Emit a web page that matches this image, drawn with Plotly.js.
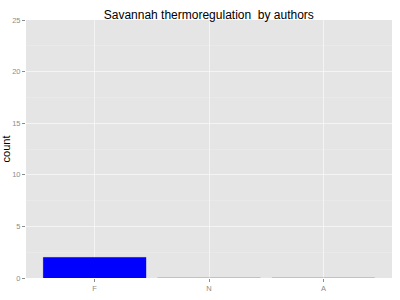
<!DOCTYPE html>
<html>
<head>
<script src="https://cdn.plot.ly/plotly-3.0.1.min.js"></script>
<style>body{margin:0;padding:0;background:#fff}#chart{width:400px;height:300px}</style>
</head>
<body>
<div id="chart"></div>
<script>
var categories = ["F", "N", "A"];
var counts = [2, 0, 0];
var yTicks = [0, 5, 10, 15, 20, 25];

var trace = {
  type: "bar",
  x: categories,
  y: counts,
  width: 0.9,
  marker: {color: "#0000ff", line: {color: "rgba(0,0,255,0.3)", width: 0.6}},
  hoverinfo: "none"
};

var layout = {
  width: 400,
  height: 300,
  margin: {l: 26, r: 8, t: 20, b: 22},
  paper_bgcolor: "#ffffff",
  plot_bgcolor: "#e5e5e5",
  font: {family: "Liberation Sans, Arial, sans-serif", color: "#000"},
  title: {text: "Savannah thermoregulation  by authors", font: {size: 12, color: "#000"}, x: 0.522, xanchor: "center", yref: "container", y: 0.952, yanchor: "middle"},
  showlegend: false,
  bargap: 0,
  xaxis: {
    type: "category",
    range: [-0.6, 2.6],
    showgrid: true,
    gridcolor: "#f7f7f7",
    gridwidth: 0.8,
    zeroline: false,
    showline: false,
    ticks: "outside",
    ticklen: 3,
    tickcolor: "#8c8c8c",
    tickfont: {size: 7.5, color: "#8c8c8c"},
    fixedrange: true
  },
  yaxis: {
    range: [0, 25],
    tickvals: yTicks,
    ticktext: yTicks.map(String),
    showgrid: true,
    gridcolor: "#f7f7f7",
    gridwidth: 0.8,
    zeroline: false,
    showline: false,
    ticks: "outside",
    ticklen: 3,
    tickcolor: "#8c8c8c",
    tickfont: {size: 7.5, color: "#8c8c8c"},
    minor: {tickvals: [2.5, 7.5, 12.5, 17.5, 22.5], showgrid: true, gridcolor: "#eeeeee", gridwidth: 0.5, ticks: ""},
    title: {text: "count", font: {size: 11, color: "#000"}, standoff: 2},
    fixedrange: true
  }
};

Plotly.newPlot("chart", [trace], layout, {displayModeBar: false, staticPlot: true});
</script>
</body>
</html>
